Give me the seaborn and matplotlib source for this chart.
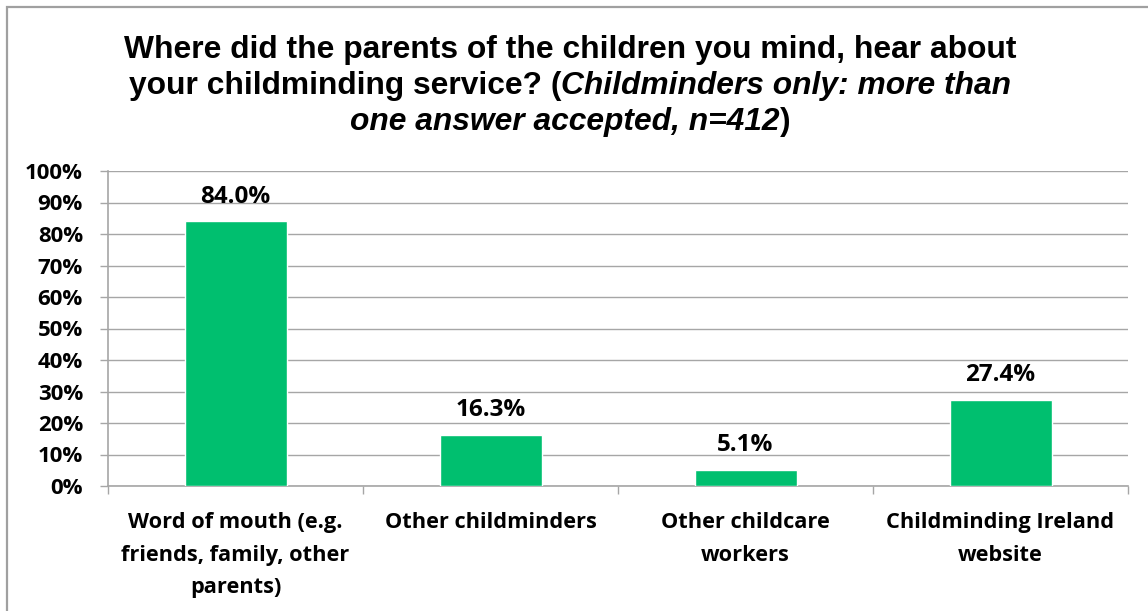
import matplotlib
matplotlib.use("Agg")
import matplotlib.pyplot as plt
from matplotlib.patches import Rectangle
from matplotlib.ticker import FixedLocator
import seaborn as sns
import pandas as pd

# Survey responses (share of childminders, %)
categories = [
    "Word of mouth (e.g.\nfriends, family, other\nparents)",
    "Other childminders",
    "Other childcare\nworkers",
    "Childminding Ireland\nwebsite",
]
shares = [84.0, 16.3, 5.1, 27.4]
y_ticks = [0, 10, 20, 30, 40, 50, 60, 70, 80, 90, 100]
y_tick_labels = [f"{t}%" for t in y_ticks]

title_lines = [
    [("Where did the parents of the children you mind, hear about", "normal")],
    [("your childminding service? (", "normal"), ("Childminders only: more than", "italic")],
    [("one answer accepted, n=412", "italic"), (")", "normal")],
]

BAR_COLOR = "#00BF6F"
GRID_COLOR = "#A6A6A6"
LABEL_FONT = "Open Sans"
TITLE_FONT = "Liberation Sans"

sns.set_theme(style="white")
plt.rcParams["font.family"] = [LABEL_FONT, "DejaVu Sans"]

W, H = 1148, 611
fig = plt.figure(figsize=(W / 100, H / 100), dpi=100)
fig.patch.set_facecolor("white")

# chart border (open toward the right and bottom edges)
fig.patches.append(Rectangle((6.5 / W, -0.1), 1.2, (H - 6.5) / H + 0.1,
                             transform=fig.transFigure, fill=False,
                             edgecolor="#A0A0A0", linewidth=1.6, zorder=0))

ax = fig.add_axes([108 / W, 1 - 486 / H, (1128 - 108) / W, (486 - 171) / H])

df = pd.DataFrame({"source": categories, "share": shares})
sns.barplot(data=df, x="source", y="share", color=BAR_COLOR, width=0.4,
            saturation=1, ax=ax, zorder=3)

ax.set_ylim(0, 100)
ax.set_xlim(-0.5, len(categories) - 0.5)
ax.yaxis.set_major_locator(FixedLocator(y_ticks))
ax.set_yticklabels(y_tick_labels, fontsize=16, fontweight="bold",
                   fontfamily=LABEL_FONT, color="black")
ax.grid(axis="y", color=GRID_COLOR, linewidth=1.0, zorder=0)
ax.set_axisbelow(True)

for side in ("top", "right"):
    ax.spines[side].set_visible(False)
for side in ("left", "bottom"):
    ax.spines[side].set_color(GRID_COLOR)
    ax.spines[side].set_linewidth(1.2)

ax.tick_params(axis="y", which="major", left=True, length=6, width=1.0,
               color=GRID_COLOR, pad=12)
# category labels at centres, tick marks at category boundaries
ax.tick_params(axis="x", which="major", length=0, pad=19)
ax.set_xticks([i - 0.5 for i in range(len(categories) + 1)], minor=True)
ax.tick_params(axis="x", which="minor", bottom=True, length=6, width=1.0,
               color=GRID_COLOR)
ax.set_xticklabels(categories, fontsize=15.7, fontweight="bold",
                   fontfamily=LABEL_FONT, color="black", linespacing=1.72)
ax.set_xlabel("")
ax.set_ylabel("")

ax.bar_label(ax.containers[0], labels=[f"{v:.1f}%" for v in shares],
             padding=9, fontsize=17.5, fontweight="bold",
             fontfamily=LABEL_FONT, color="black")

# title with mixed upright / italic runs, centred line by line
fig.canvas.draw()
renderer = fig.canvas.get_renderer()
cx = 570 / W
line_y = [50, 86, 122]
for runs, ypix in zip(title_lines, line_y):
    texts = []
    for s, style in runs:
        t = fig.text(0, 1 - ypix / H, s, fontsize=22.9, fontweight="bold",
                     fontstyle=style, fontfamily=TITLE_FONT, color="black",
                     ha="left", va="center")
        texts.append(t)
    widths = [t.get_window_extent(renderer).width for t in texts]
    x = cx * W - sum(widths) / 2
    for t, w in zip(texts, widths):
        t.set_x(x / W)
        x += w

fig.savefig("out.png", dpi=100)
